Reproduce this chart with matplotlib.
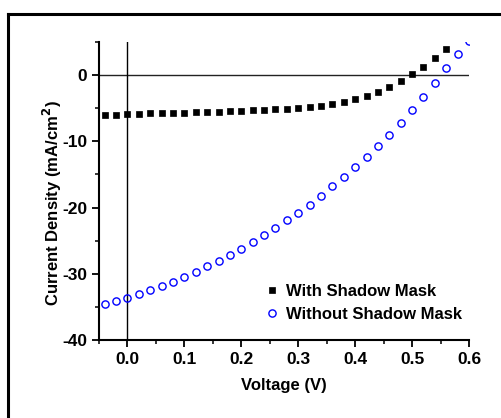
import numpy as np
import matplotlib.pyplot as plt
from matplotlib.lines import Line2D
from matplotlib.ticker import MultipleLocator

plt.rcParams['font.family'] = ['Liberation Sans', 'DejaVu Sans']
plt.rcParams['font.weight'] = 'bold'
plt.rcParams['axes.unicode_minus'] = False

# voltage points (V)
v_mask = [-0.04, -0.02, 0.00, 0.02, 0.04, 0.06, 0.08, 0.10, 0.12, 0.14, 0.16,
          0.18, 0.20, 0.22, 0.24, 0.26, 0.28, 0.30, 0.32, 0.34, 0.36, 0.38,
          0.40, 0.42, 0.44, 0.46, 0.48, 0.50, 0.52, 0.54, 0.56, 0.58]
j_mask = [-5.95, -5.95, -5.85, -5.8, -5.75, -5.75, -5.7, -5.65, -5.6, -5.55,
          -5.5, -5.45, -5.4, -5.3, -5.2, -5.15, -5.05, -4.9, -4.75, -4.6,
          -4.35, -4.0, -3.65, -3.15, -2.5, -1.8, -0.9, 0.1, 1.3, 2.6, 4.0, 5.6]

v_nomask = [-0.04, -0.02, 0.00, 0.02, 0.04, 0.06, 0.08, 0.10, 0.12, 0.14, 0.16,
            0.18, 0.20, 0.22, 0.24, 0.26, 0.28, 0.30, 0.32, 0.34, 0.36, 0.38,
            0.40, 0.42, 0.44, 0.46, 0.48, 0.50, 0.52, 0.54, 0.56, 0.58, 0.60]
j_nomask = [-34.6, -34.1, -33.6, -33.1, -32.5, -31.9, -31.2, -30.5, -29.7,
            -28.9, -28.1, -27.2, -26.3, -25.2, -24.2, -23.1, -21.9, -20.8,
            -19.6, -18.2, -16.8, -15.4, -13.9, -12.4, -10.7, -9.0, -7.2, -5.2,
            -3.3, -1.2, 1.0, 3.2, 5.1]

fig = plt.figure(figsize=(5.01, 4.18), dpi=100)
ax = fig.add_axes([99 / 501, 1 - 340 / 418, 370 / 501, 298 / 418])

# outer frame, only top and left edges are inside the picture
fx = 7.5 / 501
fy = 1 - 14 / 418
fig.lines.append(Line2D([fx, 1.05], [fy, fy], transform=fig.transFigure,
                        color='black', lw=2.2))
fig.lines.append(Line2D([fx, fx], [-0.05, fy], transform=fig.transFigure,
                        color='black', lw=2.2))

ax.axhline(0, color='#222222', lw=1, zorder=1)
ax.axvline(0, color='black', lw=1, zorder=1)

ax.plot(v_mask, j_mask, 's', color='black', ms=4.5, mec='black', mew=0.5,
        label='With Shadow Mask', zorder=3)
ax.plot(v_nomask, j_nomask, 'o', mfc='none', mec='blue', mew=1.0, ms=5.2,
        label='Without Shadow Mask', zorder=3)

ax.set_xlim(-0.05, 0.6)
ax.set_ylim(-40, 5)
ax.xaxis.set_minor_locator(MultipleLocator(0.05))
ax.yaxis.set_major_locator(MultipleLocator(10))
ax.yaxis.set_minor_locator(MultipleLocator(5))
ax.set_xticks(np.arange(0, 0.61, 0.1))
ax.set_xticklabels(['0.0', '0.1', '0.2', '0.3', '0.4', '0.5', '0.6'])

for s in ['top', 'right']:
    ax.spines[s].set_visible(False)
for s in ['left', 'bottom']:
    ax.spines[s].set_linewidth(1.5)

ax.tick_params(which='major', direction='out', length=5, width=1.3,
               labelsize=12.5, pad=3.5)
ax.tick_params(which='minor', direction='out', length=3, width=1.1)

ax.set_xlabel('Voltage (V)', fontsize=12, fontweight='bold', labelpad=8)
ax.set_ylabel('Current Density (mA/cm$^\\mathbf{2}$)', fontsize=12,
              fontweight='bold')
ax.yaxis.set_label_coords(-0.095, 0.46)

ax.legend(loc='upper left', bbox_to_anchor=(165 / 370, 1 - (284 - 42) / 298),
          frameon=False, handletextpad=0.3, handlelength=1.0,
          labelspacing=0.45, borderaxespad=0.0, borderpad=0.0,
          prop={'weight': 'bold', 'size': 12})

fig.savefig('out.png', dpi=100)
